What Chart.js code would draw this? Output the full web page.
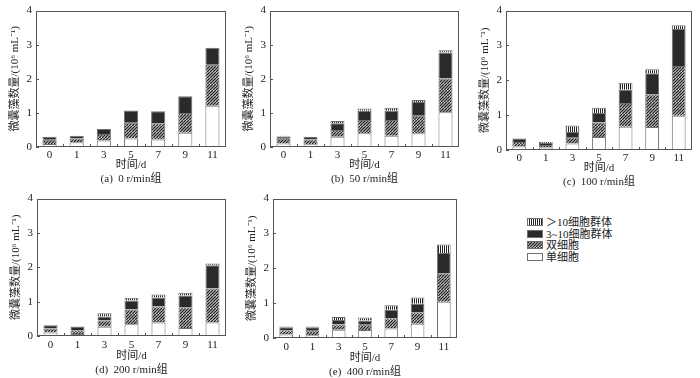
<!DOCTYPE html>
<html><head><meta charset="utf-8">
<script src="https://cdn.jsdelivr.net/npm/chart.js@4/dist/chart.umd.min.js"></script>
<style>
html,body{margin:0;padding:0;background:#fff;}
#wrap{position:relative;width:700px;height:378px;background:#fff;overflow:hidden;}
#wrap canvas.c{position:absolute;}
#legend{position:absolute;left:527px;top:217px;font:11px 'Liberation Serif','Noto Sans CJK SC',serif;color:#222;}
#legend div{height:11.5px;line-height:11.5px;white-space:nowrap;}
#legend canvas{vertical-align:middle;margin-right:3px;position:relative;top:-1px;}
</style></head>
<body><div id="wrap">
<canvas class="c" id="ca"></canvas><canvas class="c" id="cb"></canvas><canvas class="c" id="cc"></canvas>
<canvas class="c" id="cd"></canvas><canvas class="c" id="ce"></canvas>
<div id="legend"></div>
</div>
<script>
// ---- data ----
const days = ['0','1','3','5','7','9','11'];
const yTicks = [0,1,2,3,4];
const seriesNames = ['单细胞','双细胞','3~10细胞群体','＞10细胞群体'];
const captions = ['(a)  0 r/min组','(b)  50 r/min组','(c)  100 r/min组','(d)  200 r/min组','(e)  400 r/min组'];
const yTitle = '微囊藻数量/(10⁶ mL⁻¹)';
const xTitle = '时间/d';

const a_single = [0.09,0.14,0.19,0.25,0.22,0.42,1.21];
const a_double = [0.12,0.11,0.19,0.46,0.48,0.58,1.20];
const a_g3to10 = [0.09,0.08,0.15,0.36,0.35,0.49,0.50];
const a_gt10   = [0,0,0,0,0,0,0];

const b_single = [0.10,0.08,0.30,0.40,0.33,0.40,1.02];
const b_double = [0.14,0.14,0.20,0.39,0.46,0.52,0.99];
const b_g3to10 = [0.07,0.07,0.20,0.27,0.27,0.40,0.76];
const b_gt10   = [0.02,0.01,0.06,0.07,0.09,0.06,0.07];

const c_single = [0.10,0.07,0.19,0.37,0.67,0.66,0.98];
const c_double = [0.13,0.07,0.16,0.42,0.68,0.94,1.43];
const c_g3to10 = [0.10,0.06,0.17,0.27,0.38,0.60,1.06];
const c_gt10   = [0.01,0.04,0.18,0.15,0.20,0.12,0.11];

const d_single = [0.10,0.06,0.27,0.34,0.39,0.23,0.39];
const d_double = [0.12,0.11,0.18,0.43,0.47,0.61,0.99];
const d_g3to10 = [0.09,0.09,0.12,0.26,0.26,0.34,0.68];
const d_gt10   = [0.01,0.02,0.09,0.08,0.09,0.08,0.05];

const e_single = [0.10,0.08,0.24,0.23,0.27,0.41,1.04];
const e_double = [0.12,0.13,0.15,0.15,0.30,0.33,0.82];
const e_g3to10 = [0.09,0.10,0.13,0.12,0.24,0.24,0.58];
const e_gt10   = [0.02,0.02,0.08,0.09,0.13,0.18,0.24];

// ---- patterns ----
function makePattern(kind){
  const p = document.createElement('canvas');
  const ctx = p.getContext('2d');
  if(kind==='diag'){
    p.width=6;p.height=6;
    ctx.fillStyle='#fff';ctx.fillRect(0,0,6,6);
    ctx.strokeStyle='#222';ctx.lineWidth=1.5;
    for(let i=-6;i<=12;i+=3){ctx.beginPath();ctx.moveTo(i,6);ctx.lineTo(i+6,0);ctx.stroke();}
  } else if(kind==='vert'){
    p.width=2;p.height=2;
    ctx.fillStyle='#fff';ctx.fillRect(0,0,2,2);
    ctx.fillStyle='#222';ctx.fillRect(0,0,1,2);
  }
  return p;
}
const diagCanvas = makePattern('diag');
const vertCanvas = makePattern('vert');
function fills(ctx){
  return ['#ffffff', ctx.createPattern(diagCanvas,'repeat'), '#2a2a2a', ctx.createPattern(vertCanvas,'repeat')];
}
const FONT = "'Liberation Serif','Noto Sans CJK SC',serif";
const borderCol = '#707070';

const framePlugin = {
  id:'frame',
  afterDraw(chart, args, opts){
    const {ctx, chartArea:a, scales} = chart;
    ctx.save();
    ctx.strokeStyle='#555';ctx.lineWidth=1;
    ctx.strokeRect(Math.round(a.left)+0.5, Math.round(a.top)+0.5, Math.round(a.right-a.left)-1, Math.round(a.bottom-a.top)-1);
    yTicks.forEach(v=>{
      const y = Math.round(scales.y.getPixelForValue(v))+0.5;
      ctx.beginPath();ctx.moveTo(a.left,y);ctx.lineTo(a.left+3,y);ctx.stroke();
    });
    for(let i=0;i<days.length-1;i++){
      const x = Math.round((scales.x.getPixelForValue(i)+scales.x.getPixelForValue(i+1))/2)+0.5;
      ctx.beginPath();ctx.moveTo(x,a.bottom);ctx.lineTo(x,a.bottom-3);ctx.stroke();
    }
    ctx.fillStyle='#222';ctx.textAlign='center';ctx.textBaseline='middle';
    ctx.font='11px '+FONT;
    const cx=(a.left+a.right)/2;
    ctx.fillText(xTitle, cx, a.bottom+opts.t1);
    ctx.fillText(opts.caption, cx, a.bottom+opts.t2);
    ctx.restore();
  }
};

function makeChart(id, box, plot, series, caption){
  const cv = document.getElementById(id);
  cv.width = box.w; cv.height = box.h;
  cv.style.left = box.x+'px'; cv.style.top = box.y+'px';
  const ctx = cv.getContext('2d');
  const f = fills(ctx);
  const yW = plot.l - box.x;
  const xH = box.y + box.h - plot.b;
  const titlePad = yW - 21 - 6.6;
  return new Chart(ctx, {
    type:'bar',
    data:{
      labels: days,
      datasets: series.map((d,i)=>({
        label: seriesNames[i], data: d,
        backgroundColor: f[i], borderColor: borderCol, borderWidth: 1,
        barPercentage: 0.52, categoryPercentage: 1.0
      }))
    },
    options:{
      responsive:false, animation:false,
      layout:{padding:{left:0, top: plot.t - box.y, right: box.x + box.w - plot.r, bottom:0}},
      plugins:{legend:{display:false}, tooltip:{enabled:false}, frame:{caption, t1:plot.t1, t2:plot.t2}},
      scales:{
        x:{stacked:true, grid:{display:false, drawTicks:false, tickLength:0}, border:{display:false},
           ticks:{color:'#222', font:{family:FONT,size:11}, padding:plot.tp, maxRotation:0},
           afterFit(s){ s.height = xH; }},
        y:{stacked:true, min:0, max:4, grid:{display:false, drawTicks:false, tickLength:0}, border:{display:false},
           afterBuildTicks(s){ s.ticks = yTicks.map(v=>({value:v})); },
           ticks:{color:'#222', font:{family:FONT,size:11}, padding:4},
           title:{display:true, text:yTitle, color:'#222', font:{family:FONT,size:11}, padding:{top:titlePad,bottom:0}},
           afterFit(s){ s.width = yW; }}
      }
    },
    plugins:[framePlugin]
  });
}

makeChart('ca',{x:0,y:0,w:234,h:190},{l:36,r:226,t:7,b:147,tp:2,t1:18,t2:32},[a_single,a_double,a_g3to10,a_gt10],captions[0]);
makeChart('cb',{x:234,y:0,w:232,h:190},{l:270,r:459,t:7,b:147,tp:2,t1:18,t2:32},[b_single,b_double,b_g3to10,b_gt10],captions[1]);
makeChart('cc',{x:466,y:0,w:234,h:190},{l:506,r:692,t:7,b:150,tp:2,t1:18,t2:32},[c_single,c_double,c_g3to10,c_gt10],captions[2]);
makeChart('cd',{x:0,y:188,w:234,h:190},{l:37,r:226,t:195,b:336,tp:3,t1:20,t2:34},[d_single,d_double,d_g3to10,d_gt10],captions[3]);
makeChart('ce',{x:234,y:188,w:232,h:190},{l:273,r:457,t:195,b:338,tp:3,t1:20,t2:34},[e_single,e_double,e_g3to10,e_gt10],captions[4]);

// ---- legend ----
const leg = document.getElementById('legend');
[3,2,1,0].forEach(i=>{
  const row = document.createElement('div');
  const sw = document.createElement('canvas');
  sw.width=16; sw.height=8;
  const sc = sw.getContext('2d');
  sc.fillStyle = fills(sc)[i]; sc.fillRect(0,0,16,8);
  sc.strokeStyle=borderCol; sc.lineWidth=1; sc.strokeRect(0.5,0.5,15,7);
  row.appendChild(sw);
  row.appendChild(document.createTextNode(seriesNames[i]));
  leg.appendChild(row);
});
</script>
</body></html>
